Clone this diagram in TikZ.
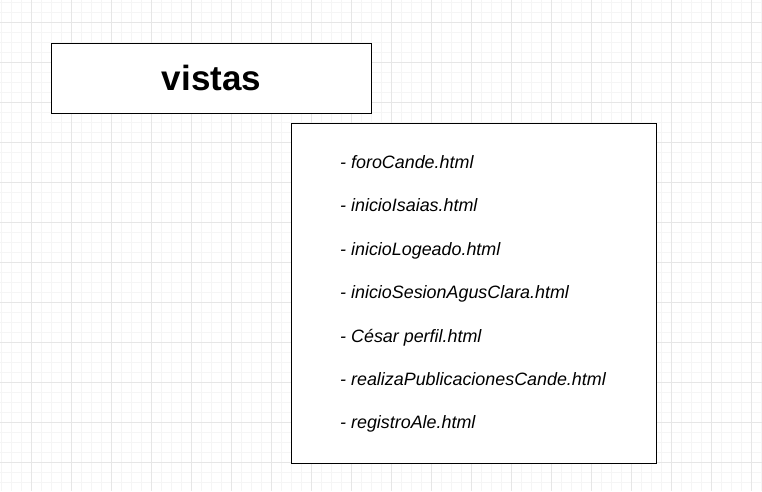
\documentclass[tikz,border=0pt]{standalone}
\usepackage{fontspec}
\setmainfont{Liberation Sans}
\definecolor{gridminor}{HTML}{F5F5F5}
\definecolor{gridmajor}{HTML}{E6E6E6}
\tikzset{
  boxstyle/.style={draw=black, line width=1pt, fill=white},
  itemtext/.style={anchor=base west, inner sep=0pt, font=\fontsize{17.9}{20}\selectfont\itshape},
  titletext/.style={inner sep=0pt, font=\fontsize{35}{40}\selectfont\bfseries}
}
\begin{document}
\begin{tikzpicture}[x=1pt,y=-1pt]
\useasboundingbox (0,0) rectangle (762,491);
\fill[white] (0,0) rectangle (762,491);
% minor grid
\foreach \gx in {1.5,11.5,...,762} \draw[gridminor, line width=1pt] (\gx,0) -- (\gx,491);
\foreach \gy in {2.5,12.5,...,491} \draw[gridminor, line width=1pt] (0,\gy) -- (762,\gy);
% major grid
\foreach \gx in {31.5,71.5,...,762} \draw[gridmajor, line width=1pt] (\gx,0) -- (\gx,491);
\foreach \gy in {22.5,62.5,...,491} \draw[gridmajor, line width=1pt] (0,\gy) -- (762,\gy);
% title box
\draw[boxstyle] (51.5,43.5) rectangle (371.5,113.5);
\node[titletext] (title) at (211.5,78) {vistas};
% list box
\draw[boxstyle] (291.5,123.5) rectangle (656.5,463.5);
\node[itemtext] (f1) at (340,168) {- foroCande.html};
\node[itemtext] (f2) at (340,211.5) {- inicioIsaias.html};
\node[itemtext] (f3) at (340,255) {- inicioLogeado.html};
\node[itemtext] (f4) at (340,298.5) {- inicioSesionAgusClara.html};
\node[itemtext] (f5) at (340,342) {- César perfil.html};
\node[itemtext] (f6) at (340,385) {- realizaPublicacionesCande.html};
\node[itemtext] (f7) at (340,428.5) {- registroAle.html};
\end{tikzpicture}
\end{document}
